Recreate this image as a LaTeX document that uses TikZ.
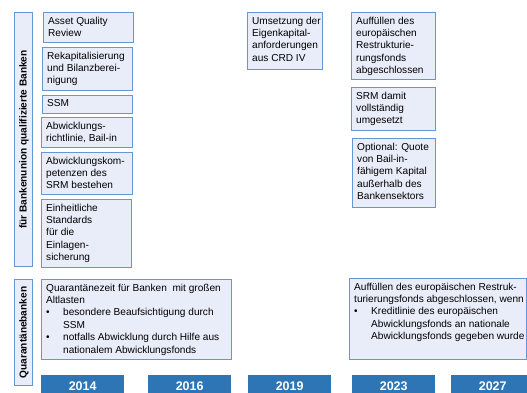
\documentclass[tikz,border=0pt]{standalone}
\usepackage{fontspec}
\setmainfont{Liberation Sans}
\definecolor{boxfill}{RGB}{233,237,249}
\definecolor{boxline}{RGB}{98,152,212}
\definecolor{yearfill}{RGB}{46,117,182}
\tikzset{
  box/.style={draw=boxline, fill=boxfill, line width=1.1pt, inner sep=0pt, rectangle},
  txt/.style={align=left, inner sep=0pt, font=\fontsize{10.1}{12.4}\selectfont, text=black},
  vlab/.style={rotate=90, inner sep=0pt, font=\fontsize{10.1}{12}\selectfont\bfseries},
  yearbar/.style={fill=yearfill, inner sep=0pt, minimum width=83pt, minimum height=21pt, anchor=north west, text=white, font=\fontsize{12.5}{14}\selectfont\bfseries}
}
\newcommand\tbox[6]{%
  \node[box, minimum width=#4pt, minimum height=#5pt, anchor=north west] (#1) at (#2,#3) {};
  \node[txt, anchor=north west] (#1t) at ([xshift=5pt,yshift=-4.5pt]#1.north west) {#6};}
\newcommand\bul{\makebox[17pt][l]{\textbullet}}
\newcommand\bulin{\hspace*{17pt}}
\begin{document}
\begin{tikzpicture}[x=1pt,y=-1pt]
\useasboundingbox (0,0) rectangle (527,392);
% vertical labels
\node[box, minimum width=18pt, minimum height=254pt, anchor=north west] (lab1) at (14,12) {};
\node[vlab] (lab1t) at ([xshift=0.5pt]lab1.center) {für Bankenunion qualifizierte Banken};
\node[box, minimum width=18pt, minimum height=106pt, anchor=north west] (lab2) at (14,279) {};
\node[vlab] (lab2t) at ([xshift=0.5pt]lab2.center) {Quarantänebanken};
% column 2014
\tbox{a1}{43}{12}{90}{30}{Asset Quality\\Review}
\tbox{a2}{42}{47}{90}{43}{Rekapitalisierung\\und Bilanzberei-\\nigung}
\tbox{a3}{42}{95}{90}{18}{SSM}
\tbox{a4}{41}{117}{91}{30}{Abwicklungs-\\richtlinie, Bail-in}
\tbox{a5}{41}{152}{91}{42}{Abwicklungskom-\\petenzen des\\SRM bestehen}
\tbox{a6}{41}{199}{90}{68}{Einheitliche\\Standards\\für die\\Einlagen-\\sicherung}
% column 2019
\tbox{b1}{247}{12}{75}{57}{Umsetzung der\\Eigenkapital-\\anforderungen\\aus CRD IV}
% column 2023
\tbox{c1}{351}{12}{84}{67}{Auffüllen des\\europäischen\\Restrukturie-\\rungsfonds\\abgeschlossen}
\tbox{c2}{351}{87}{84}{43}{SRM damit\\vollständig\\umgesetzt}
\tbox{c3}{352}{138}{83}{69}{Optional: Quote\\von Bail-in-\\fähigem Kapital\\außerhalb des\\Bankensektors}
% quarantine row
\tbox{q1}{41}{279}{190}{80}{Quarantänezeit für Banken\ \ mit großen\\Altlasten\\\bul besondere Beaufsichtigung durch\\\bulin SSM\\\bul notfalls Abwicklung durch Hilfe aus\\\bulin nationalem Abwicklungsfonds}
\tbox{q2}{349}{278}{177}{81}{Auffüllen des europäischen Restruk-\\turierungsfonds abgeschlossen, wenn\\\bul Kreditlinie des europäischen\\\bulin Abwicklungsfonds an nationale\\\bulin Abwicklungsfonds gegeben wurde}
% years
\node[yearbar] (y1) at (41,375) {2014};
\node[yearbar] (y2) at (148,375) {2016};
\node[yearbar] (y3) at (248,375) {2019};
\node[yearbar] (y4) at (352,375) {2023};
\node[yearbar] (y5) at (451,375) {2027};
\end{tikzpicture}
\end{document}
